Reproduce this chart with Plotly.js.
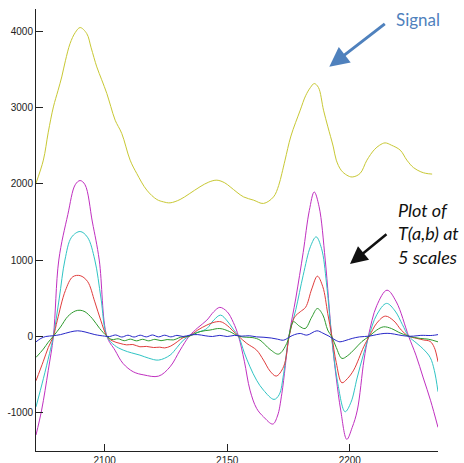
<!DOCTYPE html>
<html>
<head>
<meta charset="utf-8">
<script src="https://cdn.plot.ly/plotly-3.0.1.min.js"></script>
<style>html,body{margin:0;padding:0;background:#fff;}#chart{width:464px;height:463px;}</style>
</head>
<body>
<div id="chart"></div>
<script>
// Signal
const xSignal = [2072,2075,2077,2079.1,2081,2082.5,2084,2085.9,2088,2090,2092.7,2094.5,2096.8,2098.8,2100.9,2102.5,2104.3,2107,2110.4,2113.1,2117.2,2121.3,2124,2126.7,2130.8,2134.5,2138.9,2142.5,2145.8,2149,2151.2,2154,2156.7,2160.8,2164.8,2168.9,2171,2172.3,2173.6,2176,2179.8,2182,2184,2185.5,2187.2,2189.3,2191,2193.3,2194.5,2196.5,2198.8,2201,2204.2,2207,2210,2212.2,2214.4,2217,2220.6,2223.3,2226,2229,2231,2233.6];
const ySignal = [2010,2313,2680,3013,3230,3407,3620,3846,3990,4056,3977,3790,3539,3370,3189,3020,2838,2663,2313,2138,1919,1796,1765,1752,1796,1870,1963,2025,2050,2015,1963,1890,1830,1787,1744,1830,1980,2138,2313,2630,2970,3160,3270,3320,3270,2970,2760,2487,2313,2180,2116,2092,2138,2313,2450,2510,2540,2510,2444,2313,2215,2160,2140,2130];

// Five scales of T(a,b)
const xMagenta = [2072,2074.3,2077,2079.1,2081.3,2085,2088,2090,2092,2095,2097.8,2100.9,2104.2,2107.5,2111.7,2116,2122,2126.7,2130.8,2134.5,2138,2141.7,2144.5,2147,2150,2152.5,2154.6,2157,2159.3,2162,2164.8,2168.6,2170.5,2172.3,2175.2,2178,2181,2183.5,2185.5,2187.5,2190,2192.6,2194.5,2196.3,2198.8,2201,2203.1,2205.8,2207.6,2211,2215.2,2219,2224,2227,2230,2233,2236];
const yMagenta = [-1300,-972,-450,0,1000,1600,1990,2045,1990,1500,1000,0,-184,-359,-469,-510,-526,-403,-184,0,110,210,320,378,320,180,0,-330,-710,-950,-1060,-1156,-1050,-753,0,500,1100,1650,1895,1700,1000,0,-550,-972,-1357,-1200,-972,-315,0,400,604,450,0,-250,-550,-850,-1200];

const xCyan = [2072,2075,2077.5,2079.1,2081.5,2083.8,2086.5,2090,2093,2096,2098.5,2100.9,2104,2107.6,2111,2114.4,2118,2122,2126.7,2129.5,2132.1,2134.5,2136.2,2139,2141.7,2144.5,2147.3,2150,2152.5,2154.6,2157,2159.3,2162,2164.8,2169.1,2171.2,2173,2175.2,2178,2181,2184,2186.3,2188.5,2190.5,2192.6,2195,2198.1,2200.5,2203,2205.5,2207.8,2211,2215,2218.5,2221.5,2224,2227.4,2230,2232.8,2234.5,2236];
const yCyan = [-930,-560,-230,0,500,1000,1300,1375,1300,1000,500,0,-120,-184,-220,-250,-290,-315,-250,-150,-53,0,35,60,100,210,276,200,90,0,-220,-403,-580,-710,-832,-770,-500,0,350,800,1180,1305,1150,700,0,-600,-994,-870,-550,-250,0,280,430,330,150,0,-96,-170,-280,-450,-731];

const xRed = [2072,2075,2077,2079.1,2080.7,2084,2087,2090,2093,2096,2098.4,2100.9,2103,2106.3,2109,2111.5,2114.4,2117,2120,2122.5,2124.5,2127,2129.6,2132,2134.5,2138,2141.7,2145,2147.5,2150,2152,2154.6,2158,2162,2164.8,2167.5,2170,2173,2175.3,2177.5,2179.8,2182,2184.5,2186.8,2189,2191,2192.7,2194.5,2196.8,2199,2201.6,2205.7,2208,2211,2214.5,2218,2221,2224,2227.4,2230,2232.8,2234.5,2236];
const yRed = [-587,-330,-150,0,210,600,780,795,720,450,210,0,-60,-96,-115,-110,-140,-135,-150,-145,-155,-130,-75,-20,0,80,145,185,188,140,80,0,-96,-184,-315,-460,-525,-403,0,250,320,380,620,788,650,300,0,-350,-613,-560,-447,-140,0,170,263,200,80,0,-30,-50,-70,-150,-338];

const xGreen = [2072,2075,2077,2079.1,2082,2085,2088,2090,2092,2095,2098,2100.9,2103,2105.5,2108,2110.5,2113,2115.5,2118,2120.5,2123,2125.5,2128,2131,2134.5,2139,2143,2147,2151,2154.6,2158,2160.5,2163.4,2167.5,2171,2174.3,2177,2179.5,2181.8,2184.5,2186.8,2189,2191,2192.7,2194.5,2196.8,2199,2202,2205,2208,2211,2213.8,2217,2220,2224,2228.7,2232,2236];
const yGreen = [-280,-170,-80,0,120,260,330,340,320,230,100,0,-45,-35,-60,-40,-62,-42,-62,-42,-60,-45,-50,-15,0,60,80,100,60,0,-15,-20,-53,-175,-236,-96,188,130,100,250,363,280,80,-10,-150,-293,-260,-170,-70,0,80,122,100,50,0,-30,-40,-75];

const xBlue = [2072,2074,2076,2079,2082,2086,2089,2092,2096,2100,2102,2104.5,2107,2109.5,2112,2114.5,2117,2119.5,2122,2124.5,2127,2129.5,2132,2135,2138,2141,2144,2147,2150,2153,2156,2159,2162,2165,2168,2170.5,2173,2175.5,2177.5,2179.8,2182.5,2186.6,2189,2191.5,2194,2196,2198,2201,2204,2208,2211,2214,2216.5,2220,2223.3,2226,2229,2232.8,2234.5,2236];
const yBlue = [-75,-30,-5,5,20,55,70,55,20,0,-5,15,-12,12,-12,12,-10,15,-10,12,-10,10,-5,15,20,5,-5,10,-5,10,0,5,-10,-15,-25,-40,-53,-10,20,35,13,70,40,0,-50,-75,-60,-30,-10,0,20,35,35,15,0,0,10,8,12,20];

const xTicks = [2100, 2150, 2200];
const yTicks = [-1000, 0, 1000, 2000, 3000, 4000];
const signalLabel = 'Signal';
const scalesLabel = '<i>Plot of<br>T(a,b) at<br>5 scales</i>';

const colors = {signal:'#c8c834', magenta:'#c030c0', cyan:'#30c4c4', red:'#e03c3c', green:'#2e9a2e', blue:'#2828c8'};

function tr(x, y, c) {
  return {x: x, y: y, type: 'scatter', mode: 'lines', hoverinfo: 'skip',
    line: {color: c, width: 1, shape: 'spline', smoothing: 1}};
}

const data = [
  tr(xSignal, ySignal, colors.signal),
  tr(xMagenta, yMagenta, colors.magenta),
  tr(xCyan, yCyan, colors.cyan),
  tr(xRed, yRed, colors.red),
  tr(xGreen, yGreen, colors.green),
  tr(xBlue, yBlue, colors.blue)
];

const axisCommon = {
  showgrid: false, zeroline: false, showline: true, linecolor: '#222', linewidth: 1,
  ticks: 'inside', ticklen: 7, tickwidth: 1, tickcolor: '#222',
  tickfont: {family: 'Liberation Sans, Arial, sans-serif', size: 10, color: '#222'},
  mirror: false, fixedrange: true
};

const layout = {
  width: 464, height: 463,
  margin: {l: 36, r: 26, t: 9, b: 12, pad: 0},
  paper_bgcolor: '#fff', plot_bgcolor: '#fff',
  showlegend: false,
  xaxis: Object.assign({}, axisCommon, {range: [2072, 2236], tickvals: xTicks, ticktext: xTicks.map(String)}),
  yaxis: Object.assign({}, axisCommon, {range: [-1510, 4300], tickvals: yTicks, ticktext: yTicks.map(String)}),
  annotations: [
    {xref: 'paper', yref: 'paper', x: 0.95, y: 0.977, xanchor: 'center', yanchor: 'middle',
     text: signalLabel, showarrow: false, font: {family: 'Lato, sans-serif', size: 17, color: '#4f81bd'}},
    {xref: 'paper', yref: 'paper', x: 0.7296, y: 0.8695, text: '', showarrow: true,
     ax: 57, ay: -44, arrowhead: 2, arrowsize: 1.3, arrowwidth: 3, arrowcolor: '#4f81bd', standoff: 0, startstandoff: 0},
    {xref: 'paper', yref: 'paper', x: 0.896, y: 0.493, xanchor: 'left', yanchor: 'middle', align: 'left',
     text: scalesLabel, showarrow: false, font: {family: 'Lato, sans-serif', size: 18, color: '#111'}},
    {xref: 'paper', yref: 'paper', x: 0.781, y: 0.423, text: '', showarrow: true,
     ax: 38, ay: -31, arrowhead: 2, arrowsize: 1.4, arrowwidth: 2.5, arrowcolor: '#111', standoff: 0, startstandoff: 0}
  ]
};

Plotly.newPlot('chart', data, layout, {staticPlot: true, displayModeBar: false});
</script>
</body>
</html>
